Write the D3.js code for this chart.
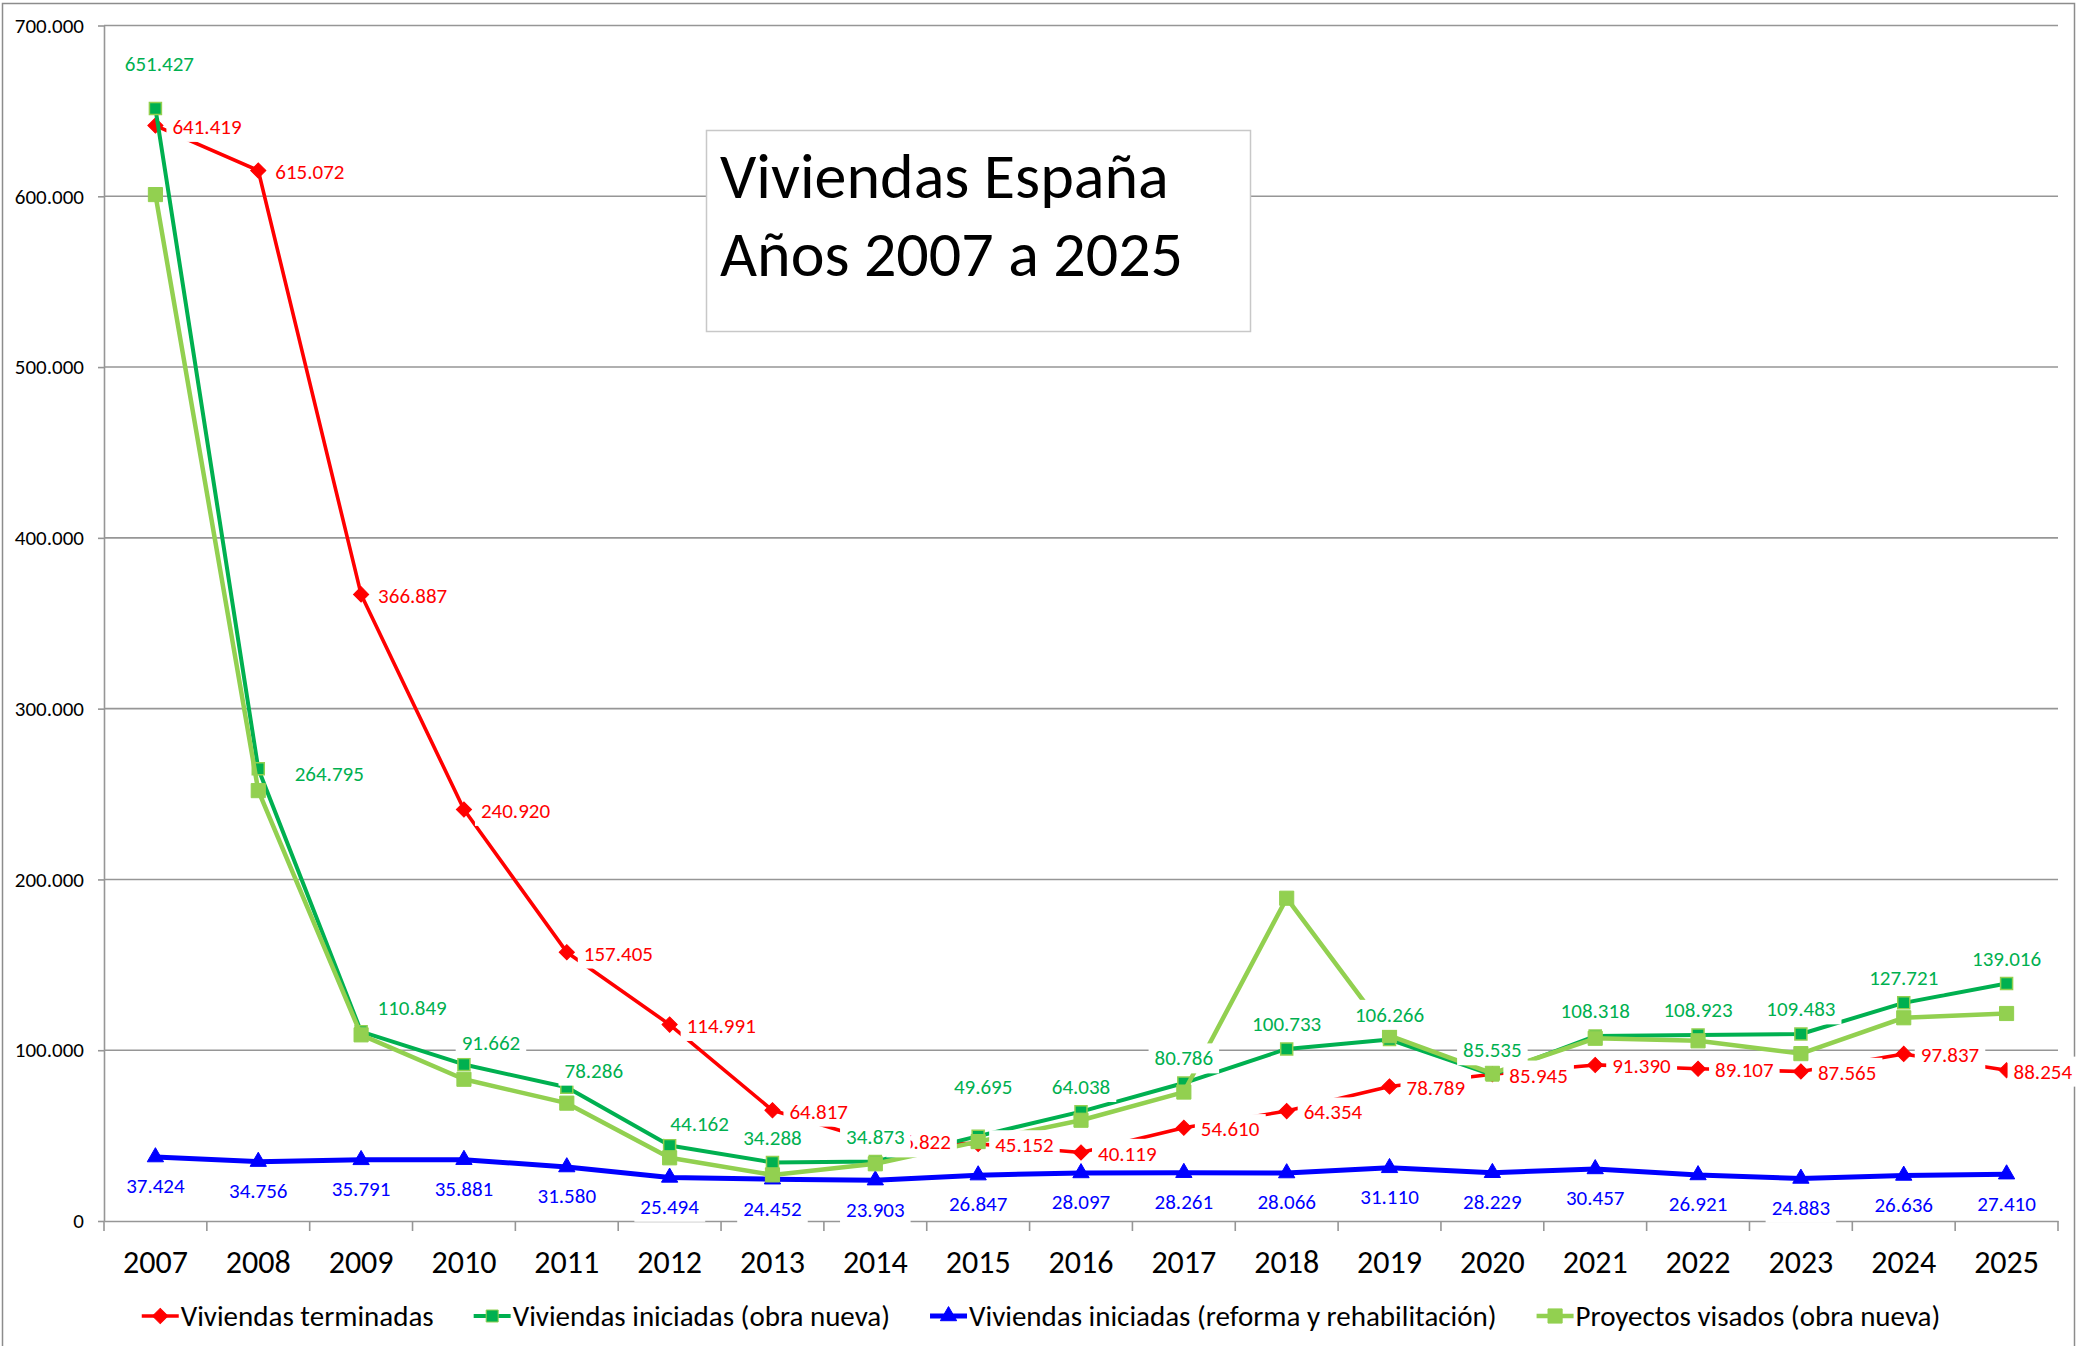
<!DOCTYPE html>
<html lang="es">
<head>
<meta charset="UTF-8">
<title>Viviendas España</title>
<script src="https://cdn.jsdelivr.net/npm/d3@7"></script>
<style>
  body { margin: 0; background: #fff; }
  text { font-family: Carlito, Calibri, Lato, sans-serif; }
</style>
</head>
<body>
<script>
// ---- data ----
var years = [2007, 2008, 2009, 2010, 2011, 2012, 2013, 2014, 2015, 2016, 2017, 2018, 2019, 2020, 2021, 2022, 2023, 2024, 2025];
var terminadas = [641419, 615072, 366887, 240920, 157405, 114991, 64817, 46822, 45152, 40119, 54610, 64354, 78789, 85945, 91390, 89107, 87565, 97837, 88254];
var iniciadasNueva = [651427, 264795, 110849, 91662, 78286, 44162, 34288, 34873, 49695, 64038, 80786, 100733, 106266, 85535, 108318, 108923, 109483, 127721, 139016];
var iniciadasReforma = [37424, 34756, 35791, 35881, 31580, 25494, 24452, 23903, 26847, 28097, 28261, 28066, 31110, 28229, 30457, 26921, 24883, 26636, 27410];
// no labels in the chart for this one
var visados = [601000, 252000, 109000, 83000, 69000, 37000, 27000, 33500, 46500, 59000, 75500, 189000, 108500, 86500, 107000, 105500, 98000, 119000, 121500];
var yTicks = [0, 100000, 200000, 300000, 400000, 500000, 600000, 700000];
var names = ["Viviendas terminadas", "Viviendas iniciadas (obra nueva)", "Viviendas iniciadas (reforma y rehabilitación)", "Proyectos visados (obra nueva)"];
var titleLines = ["Viviendas España", "Años 2007 a 2025"];

// labels that were moved by hand in the original
var greenNudge = {2007: [4, -20], 2008: [71, 30], 2009: [51, 1], 2010: [27, 3], 2011: [27, 8], 2012: [30, 3], 2015: [5, -24]};
var redNudge = {2025: [-10, 0]};

var W = 2078, H = 1346;
var plotL = 104, plotR = 2058, plotT = 25.5, plotB = 1221;
var labelSize = 21;

var es = d3.formatLocale({decimal: ",", thousands: ".", grouping: [3], currency: ["", " €"]});
var fmt = es.format(",d");

var svg = d3.select("body").append("svg").attr("width", W).attr("height", H);

// chart frame
svg.append("rect").attr("x", 2.5).attr("y", 3.5).attr("width", 2072).attr("height", 1400)
    .attr("fill", "#fff").attr("stroke", "#8c8c8c").attr("stroke-width", 1.5);

var x = d3.scaleBand().domain(years).range([plotL, plotR]);
var cx = function(yr) { return x(yr) + x.bandwidth() / 2; };
var y = d3.scaleLinear().domain([0, 700000]).range([plotB, plotT]);

// gridlines
svg.append("g").selectAll("line").data(yTicks.filter(function(t) { return t > 0; })).enter().append("line")
    .attr("x1", plotL).attr("x2", plotR)
    .attr("y1", function(t) { return y(t); }).attr("y2", function(t) { return y(t); })
    .attr("stroke", "#969696").attr("stroke-width", 1.6);

// y axis
var yAxis = svg.append("g").attr("transform", "translate(" + plotL + ",0)")
    .call(d3.axisLeft(y).tickValues(yTicks).tickFormat(fmt).tickSize(6).tickSizeOuter(0).tickPadding(14));
yAxis.select(".domain").attr("stroke", "#969696").attr("stroke-width", 1.6);
yAxis.selectAll(".tick line").attr("stroke", "#969696").attr("stroke-width", 1.6);
yAxis.selectAll("text").attr("font-size", 21).attr("fill", "#000");

// x axis
var xAxis = svg.append("g").attr("transform", "translate(0," + plotB + ")")
    .call(d3.axisBottom(x).tickSize(0).tickSizeOuter(0));
xAxis.select(".domain").attr("stroke", "#969696").attr("stroke-width", 1.6);
xAxis.selectAll("text").attr("font-size", 32).attr("fill", "#000").attr("y", 52).attr("dy", 0);
var bounds = years.map(function(yr) { return x(yr); }).concat([plotR]);
svg.append("g").selectAll("line").data(bounds).enter().append("line")
    .attr("x1", function(d) { return d; }).attr("x2", function(d) { return d; })
    .attr("y1", plotB).attr("y2", plotB + 10)
    .attr("stroke", "#969696").attr("stroke-width", 1.6);

// series
var series = [
    {values: terminadas, color: "#ff0000", width: 3.6, marker: "diamond"},
    {values: iniciadasNueva, color: "#00b050", width: 4, marker: "square"},
    {values: iniciadasReforma, color: "#0000ff", width: 5, marker: "triangle"},
    {values: visados, color: "#92d050", width: 4.5, marker: "squareL"}
];

function markerPath(kind) {
    if (kind === "diamond") return d3.symbol(d3.symbolSquare, 115)();
    if (kind === "square") return d3.symbol(d3.symbolSquare, 144)();
    if (kind === "squareL") return d3.symbol(d3.symbolSquare, 200)();
    return d3.symbol(d3.symbolTriangle, 115)();
}
function markerTransform(kind, px, py) {
    return "translate(" + px + "," + py + ")" + (kind === "diamond" ? " rotate(45)" : "");
}

var line = d3.line().x(function(d, i) { return cx(years[i]); }).y(function(d) { return y(d); });

series.forEach(function(s) {
    var g = svg.append("g");
    g.append("path").datum(s.values).attr("d", line)
        .attr("fill", "none").attr("stroke", s.color).attr("stroke-width", s.width)
        .attr("stroke-linejoin", "round");
    g.selectAll("path.m").data(s.values).enter().append("path").attr("class", "m")
        .attr("d", markerPath(s.marker))
        .attr("transform", function(d, i) { return markerTransform(s.marker, cx(years[i]), y(d)); })
        .attr("fill", s.color)
        .attr("stroke", s.marker === "square" ? "#92d050" : s.color)
        .attr("stroke-width", s.marker === "square" ? 1.5 : 1);
});

// data labels with white boxes (they hide what is under them)
function drawLabels(values, color, place) {
    var g = svg.append("g");
    values.forEach(function(v, i) {
        var p = place(v, i);
        var lg = g.append("g");
        var t = lg.append("text").attr("x", p[0]).attr("y", p[1]).attr("dy", "0.35em")
            .attr("text-anchor", p[2]).attr("font-size", labelSize).attr("fill", color).text(fmt(v));
        var b = t.node().getBBox();
        lg.insert("rect", "text").attr("x", b.x - 6).attr("y", b.y - 2)
            .attr("width", b.width + 12).attr("height", b.height + 4).attr("fill", "#fff");
    });
}

drawLabels(terminadas, "#ff0000", function(v, i) {
    var n = redNudge[years[i]] || [0, 0];
    return [cx(years[i]) + 17 + n[0], y(v) + 1 + n[1], "start"];
});
drawLabels(iniciadasNueva, "#00b050", function(v, i) {
    var n = greenNudge[years[i]] || [0, 0];
    return [cx(years[i]) + n[0], y(v) - 25 + n[1], "middle"];
});
drawLabels(iniciadasReforma, "#0000ff", function(v, i) {
    return [cx(years[i]), y(v) + 29, "middle"];
});

// title box
svg.append("rect").attr("x", 706.5).attr("y", 130.5).attr("width", 544).attr("height", 201)
    .attr("fill", "#fff").attr("stroke", "#c8c8c8").attr("stroke-width", 1.5);
svg.append("g").selectAll("text").data(titleLines).enter().append("text")
    .attr("x", 720).attr("y", function(d, i) { return 198 + i * 78; })
    .attr("font-size", 64).attr("fill", "#000").text(function(d) { return d; });

// legend
var leg = svg.append("g");
var lx = 0;
series.forEach(function(s, i) {
    var it = leg.append("g").attr("transform", "translate(" + lx + ",0)");
    it.append("line").attr("x1", 0).attr("x2", 37).attr("y1", 0).attr("y2", 0)
        .attr("stroke", s.color).attr("stroke-width", s.width);
    it.append("path").attr("d", markerPath(s.marker))
        .attr("transform", markerTransform(s.marker, 18.5, 0))
        .attr("fill", s.color)
        .attr("stroke", s.marker === "square" ? "#92d050" : s.color);
    var t = it.append("text").attr("x", 39).attr("y", 0).attr("dy", "0.35em")
        .attr("font-size", 29).attr("fill", "#000").text(names[i]);
    lx += 39 + t.node().getComputedTextLength() + 40;
});
lx -= 40;
leg.attr("transform", "translate(" + (1041 - lx / 2) + ",1316)");
</script>
</body>
</html>
